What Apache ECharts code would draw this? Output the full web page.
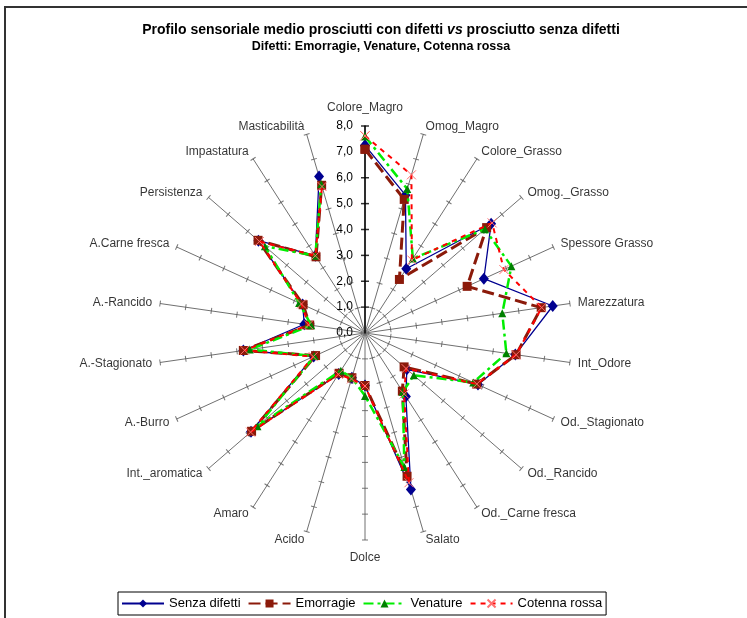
<!DOCTYPE html>
<html><head><meta charset="utf-8">
<script src="https://cdn.jsdelivr.net/npm/echarts@6/dist/echarts.min.js"></script>
<style>html,body{margin:0;padding:0;background:#fff}#c{width:747px;height:618px}</style>
</head><body><div id="c"></div>
<script>
const categories = ['Colore_Magro','Omog_Magro','Colore_Grasso','Omog._Grasso','Spessore Grasso','Marezzatura','Int_Odore','Od._Stagionato','Od._Rancido','Od._Carne fresca','Salato','Dolce','Acido','Amaro','Int._aromatica','A.-Burro','A.-Stagionato','A.-Rancido','A.Carne fresca','Persistenza','Impastatura','Masticabilità'];
const tickValues = [0,1,2,3,4,5,6,7,8];
const senzaDifetti = [7.25,5.55,2.95,6.45,5.05,7.33,5.87,4.8,2.14,2.92,6.3,2.03,1.8,1.88,5.83,2.18,4.75,2.37,2.65,5.45,3.55,6.3];
const emorragie    = [7.1,5.38,2.46,6.22,4.34,6.88,5.9,4.75,2.0,2.67,5.77,2.03,1.8,1.85,5.8,2.1,4.75,2.16,2.63,5.47,3.5,5.95];
const venature     = [7.6,5.8,3.42,6.13,6.22,5.36,5.52,4.6,2.5,2.7,5.4,2.43,1.8,1.73,5.5,2.15,4.5,2.1,2.8,5.12,3.55,6.0];
const cotennaRossa = [7.62,6.37,3.35,6.5,5.9,6.9,5.9,4.75,2.1,2.8,6.03,2.05,1.85,1.9,5.85,2.2,4.7,2.2,2.7,5.4,3.55,5.9];
const seriesNames = ['Senza difetti','Emorragie','Venature','Cotenna rossa'];

const FONT = "'Liberation Sans', Arial, sans-serif";
const N = categories.length;
const maxV = tickValues[tickValues.length-1];
function angleOf(i){ return i*360/N; }
function closed(vals){ const d = vals.map((v,i)=>[v, categories[i]]); d.push([vals[0], categories[0]]); return d; }

const tickData = [];
categories.forEach((c,i)=>{
  tickValues.slice(1).forEach(t=>{
    tickData.push({value:[t,c], symbolRotate:-angleOf(i),
      symbolSize: i===0?[8,1.5]:[6,1],
      itemStyle:{color: i===0?'#000':'#555'}});
  });
});
const labelData = categories.map((c,i)=>{
  const a = angleOf(i)*Math.PI/180, s=Math.sin(a), co=Math.cos(a);
  const vert = Math.abs(s)<0.01;
  const gap = vert?12:8;
  return {name:c, value:[maxV,c], label:{offset:[gap*s,-gap*co],
    align: vert?'center':(s>0?'left':'right'),
    verticalAlign: vert?(co>0?'bottom':'top'):'middle'}};
});

const chart = echarts.init(document.getElementById('c'), null, {renderer:'canvas'});
chart.setOption({
  animation:false,
  backgroundColor:'#fff',
  textStyle:{fontFamily:FONT},
  graphic:[
    {type:'rect', silent:true, z:-10, shape:{x:5,y:7,width:800,height:700}, style:{fill:'none', stroke:'#333', lineWidth:2}},
    {type:'text', x:381, y:30, silent:true, style:{
      text:'{b|Profilo sensoriale medio prosciutti con difetti }{i|vs}{b| prosciutto senza difetti}',
      rich:{b:{fontSize:14,fontWeight:'bold',fontFamily:FONT,fill:'#000'}, i:{fontSize:14,fontWeight:'bold',fontStyle:'italic',fontFamily:FONT,fill:'#000'}},
      textAlign:'center', textVerticalAlign:'middle', align:'center', verticalAlign:'middle'}},
    {type:'text', x:381, y:47, silent:true, style:{
      text:'Difetti: Emorragie, Venature, Cotenna rossa',
      fontSize:12.5, fontWeight:'bold', fontFamily:FONT, fill:'#000',
      textAlign:'center', textVerticalAlign:'middle', align:'center', verticalAlign:'middle'}}
  ],
  legend:{data:seriesNames, left:118, top:592, itemWidth:42, itemHeight:10, itemGap:7,
    padding:[5,4,5,3], borderColor:'#000', borderWidth:1, selectedMode:false,
    textStyle:{fontSize:13, color:'#000', fontFamily:FONT}},
  polar:{center:[365,333], radius:207},
  angleAxis:{type:'category', data:categories, startAngle:90, clockwise:true, boundaryGap:false,
    axisLine:{show:false}, axisTick:{show:false}, axisLabel:{show:false},
    splitLine:{show:true, lineStyle:{color:'#707070', width:1}}},
  radiusAxis:{min:0, max:maxV, interval:1,
    axisLine:{show:true, lineStyle:{color:'#000', width:1.5}},
    axisTick:{show:false}, splitLine:{show:false},
    axisLabel:{margin:12, fontSize:12, color:'#000', fontFamily:FONT,
      formatter:v=>v.toFixed(1).replace('.',',')}},
  series:[
    {type:'scatter', coordinateSystem:'polar', silent:true, z:1, symbol:'rect', data:tickData},
    {type:'scatter', coordinateSystem:'polar', silent:true, z:1, symbol:'circle', symbolSize:1,
      itemStyle:{color:'rgba(0,0,0,0)'},
      label:{show:true, position:'inside', formatter:'{b}', fontSize:12, color:'#000', fontFamily:FONT},
      data:labelData},
    {name:seriesNames[0], type:'line', coordinateSystem:'polar', data:closed(senzaDifetti), showAllSymbol:true,
      symbol:'diamond', symbolSize:[10,12], lineStyle:{color:'#000090', width:1.3}, itemStyle:{color:'#000090'}, z:3},
    {name:seriesNames[1], type:'line', coordinateSystem:'polar', data:closed(emorragie), showAllSymbol:true,
      symbol:'rect', symbolSize:9, lineStyle:{color:'#8B1A0A', width:3, type:[12,5]}, itemStyle:{color:'#8B1A0A'}, z:4},
    {name:seriesNames[2], type:'line', coordinateSystem:'polar', data:closed(venature), showAllSymbol:true,
      symbol:'triangle', symbolSize:8, lineStyle:{color:'#00EE00', width:2.5, type:[10,4,3,4]}, itemStyle:{color:'#008000'}, z:5},
    {name:seriesNames[3], type:'line', coordinateSystem:'polar', data:closed(cotennaRossa), showAllSymbol:true,
      symbol:'path://M0,0L10,10M10,0L0,10', symbolSize:9, lineStyle:{color:'#FF0000', width:2, type:[5,5]},
      itemStyle:{color:'#FF7070', borderColor:'#FF7070', borderWidth:1}, z:6}
  ]
});
</script></body></html>
